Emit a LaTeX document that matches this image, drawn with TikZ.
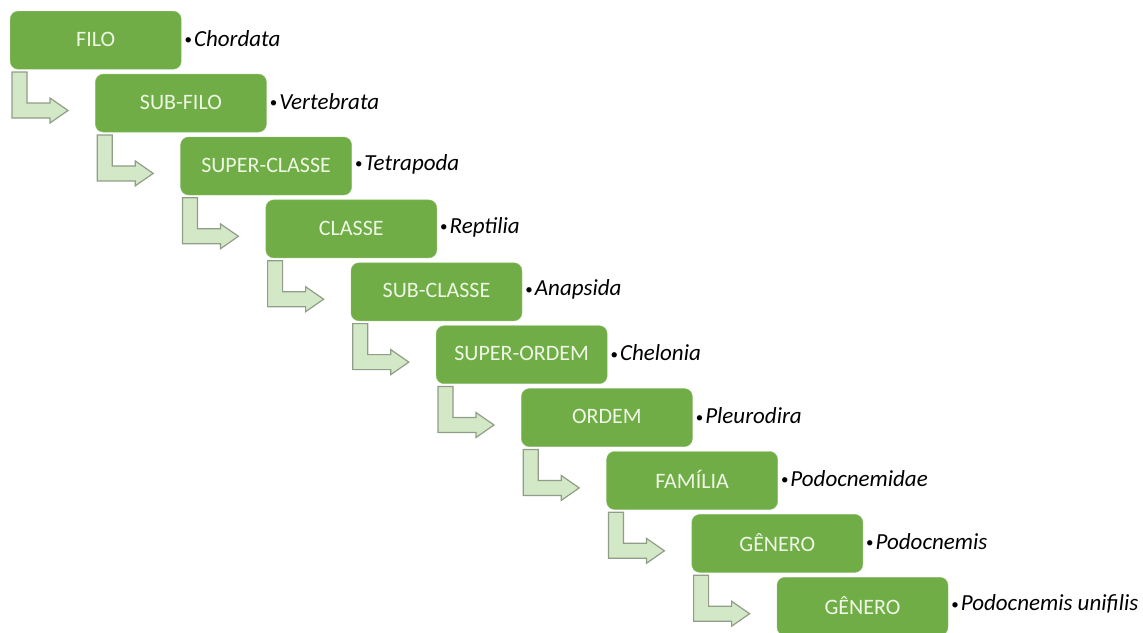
\documentclass[tikz,border=0pt]{standalone}
\usepackage{fontspec}
\setmainfont{Carlito}
\usetikzlibrary{positioning}

\definecolor{rankgreen}{HTML}{70AD47}
\definecolor{ranktext}{HTML}{EEF7E4}
\definecolor{arrowfill}{HTML}{D3E8C6}
\definecolor{arrowline}{HTML}{909E88}

\tikzset{
  rankbox/.style={draw=rankgreen!80!white, fill=rankgreen, rounded corners=8pt,
    minimum width=171pt, minimum height=58pt, inner sep=0pt, text=ranktext,
    font=\fontsize{22}{26}\selectfont},
  taxon/.style={anchor=west, inner sep=0pt, font=\fontsize{23}{27}\selectfont},
  bentarrow/.style={draw=arrowline, fill=arrowfill, line width=1.2pt}
}
\newcommand{\dotmark}{{\fontsize{15}{15}\selectfont\raisebox{1.5pt}{\textbullet}}\hspace{2pt}}

\begin{document}
\begin{tikzpicture}[x=1pt,y=-1pt]
  \useasboundingbox (0,0) rectangle (1143,632);
  % ranks, one step right and down each time
  \foreach \name/\rank/\taxname [count=\i from 0] in {
      filo/FILO/Chordata,
      subfilo/SUB-FILO/Vertebrata,
      superclasse/SUPER-CLASSE/Tetrapoda,
      classe/CLASSE/Reptilia,
      subclasse/SUB-CLASSE/Anapsida,
      superordem/SUPER-ORDEM/Chelonia,
      ordem/ORDEM/Pleurodira,
      familia/FAMÍLIA/Podocnemidae,
      genero/GÊNERO/Podocnemis,
      especie/GÊNERO/Podocnemis unifilis} {
    \node[rankbox, anchor=north west] (\name) at (10+85.2*\i, 11+62.9*\i)
      {\raisebox{2pt}{\rank}};
    \node[taxon] (t\name) at ([xshift=3pt, yshift=2pt]\name.east)
      {\dotmark\textit{\taxname}};
  }
  % bent arrows under each box
  \foreach \name in {filo,subfilo,superclasse,classe,subclasse,superordem,ordem,familia,genero} {
    \begin{scope}[shift={(\name.north west)}]
      \draw[bentarrow] (2,61) -- (17,61) -- (17,92) -- (40,92) -- (40,87)
        -- (58,99.5) -- (40,112) -- (40,107) -- (2,107) -- cycle;
    \end{scope}
  }
\end{tikzpicture}
\end{document}
